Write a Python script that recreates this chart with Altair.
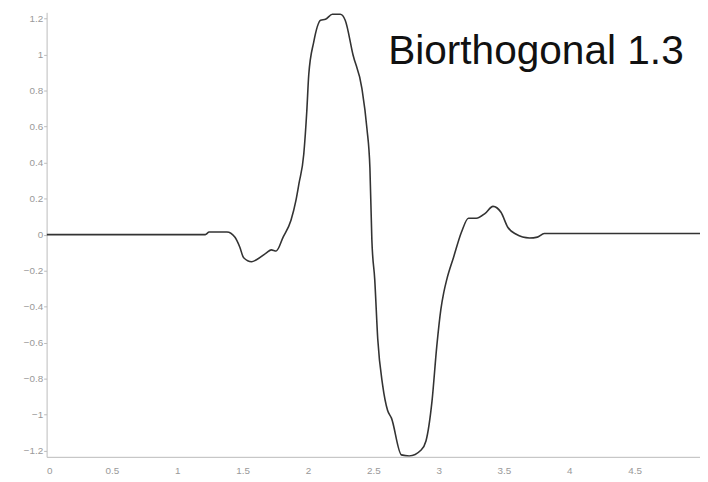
import altair as alt
import pandas as pd

# Curve of the Biorthogonal 1.3 wavelet
xs = [0.0, 1.003, 1.214, 1.244, 1.380, 1.440, 1.478, 1.508, 1.569, 1.606, 1.682, 1.719,
      1.757, 1.810, 1.870, 1.908, 1.931, 1.968, 1.991, 2.006, 2.044, 2.097, 2.134, 2.187,
      2.247, 2.285, 2.345, 2.413, 2.451, 2.474, 2.489, 2.511, 2.534, 2.572, 2.609, 2.639,
      2.715, 2.775, 2.866, 2.903, 2.949, 2.986, 3.017, 3.039, 3.062, 3.115, 3.175, 3.228,
      3.288, 3.356, 3.416, 3.477, 3.529, 3.590, 3.695, 3.756, 3.808, 4.095, 5.0]
ys = [0.0, 0.0, 0.0, 0.014, 0.014, -0.014, -0.069, -0.129, -0.151, -0.140, -0.102, -0.085,
      -0.091, -0.014, 0.080, 0.190, 0.283, 0.448, 0.685, 0.888, 1.070, 1.191, 1.196, 1.224,
      1.224, 1.191, 0.998, 0.811, 0.591, 0.371, -0.030, -0.250, -0.580, -0.839, -0.976, -1.020,
      -1.224, -1.230, -1.197, -1.147, -0.927, -0.618, -0.415, -0.322, -0.250, -0.124, 0.014, 0.091,
      0.091, 0.118, 0.157, 0.124, 0.041, 0.003, -0.019, -0.014, 0.006, 0.006, 0.006]

x_ticks = [0, 0.5, 1, 1.5, 2, 2.5, 3, 3.5, 4, 4.5]
y_ticks = [-1.2, -1, -0.8, -0.6, -0.4, -0.2, 0, 0.2, 0.4, 0.6, 0.8, 1, 1.2]
label_text = "Biorthogonal 1.3"

df = pd.DataFrame({"x": xs, "y": ys})

axis_common = dict(
    grid=False,
    domainColor="#bbbbbb",
    tickColor="#bbbbbb",
    labelColor="#999999",
    labelFont="Liberation Sans",
    labelFontSize=10,
    title=None,
)

line = alt.Chart(df).mark_line(color="#333333", strokeWidth=1.6, clip=True,
                               interpolate="monotone").encode(
    x=alt.X("x:Q", scale=alt.Scale(domain=[0, 5], nice=False, zero=False),
            axis=alt.Axis(values=x_ticks, tickSize=0, labelPadding=9, format="~g", **axis_common)),
    y=alt.Y("y:Q", scale=alt.Scale(domain=[-1.235, 1.235], nice=False, zero=False),
            axis=alt.Axis(values=y_ticks, tickSize=3, labelPadding=1, format="~g", **axis_common)),
)

label = alt.Chart(pd.DataFrame({"t": [label_text]})).mark_text(
    align="left", baseline="alphabetic", font="Liberation Sans", fontSize=41, color="#111111"
).encode(text="t:N", x=alt.value(345), y=alt.value(52))

chart = (line + label).properties(
    width=660, height=449,
    autosize=alt.AutoSizeParams(type="none"),
    padding={"left": 39, "top": 2, "right": 0, "bottom": 20},
    background="white",
).configure_view(stroke=None)

chart.save("out.html", embed_options={"renderer": "svg", "actions": False})
